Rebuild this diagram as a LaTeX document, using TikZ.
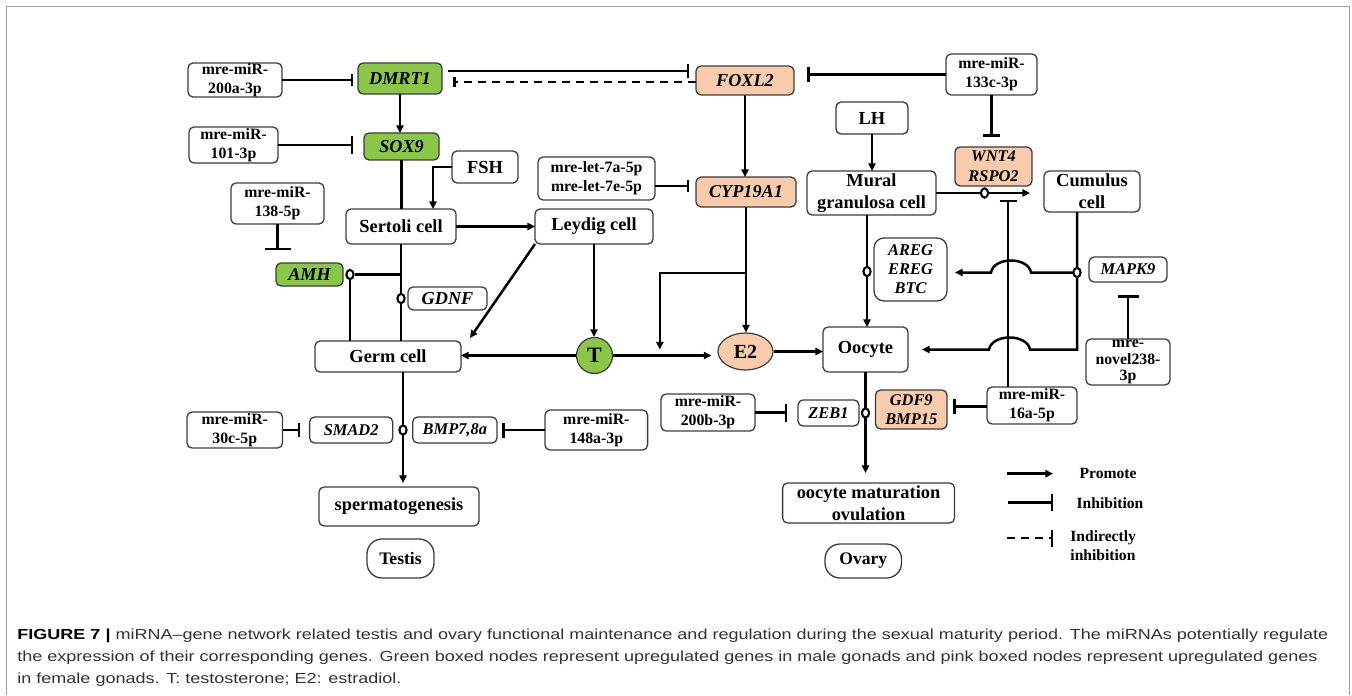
\documentclass[tikz,border=0pt]{standalone}
\usepackage{fontspec}
\setmainfont{Liberation Serif}
\newfontfamily\capsans{Liberation Sans}
\usetikzlibrary{arrows.meta,calc,shapes.geometric}
\definecolor{upgreen}{RGB}{138,198,74}
\definecolor{uppink}{RGB}{247,203,172}
\definecolor{boxc}{RGB}{60,60,60}
\definecolor{framec}{RGB}{160,160,160}
\definecolor{capc}{RGB}{50,50,50}
\newsavebox\capbox
\newcommand\capfont{\capsans\fontsize{7.3}{9}\selectfont\color{capc}}
\newcommand\placebox[7][]{%
  \pgfmathsetmacro\pbw{(#5-#3)*0.5}%
  \pgfmathsetmacro\pbh{(#6-#4)*0.5}%
  \pgfmathsetmacro\pcx{(#3+#5)/2}%
  \pgfmathsetmacro\pcy{(#4+#6)/2}%
  \node[#1,minimum width=\pbw pt,minimum height=\pbh pt] (#2) at (\pcx,\pcy) {#7};}
\tikzset{
  box/.style={draw=boxc, line width=0.65pt, rounded corners=2.5pt, inner sep=0pt, outer sep=0pt, align=center, fill=white},
  mir/.style={box, font=\fontsize{7.9}{9.6}\selectfont\bfseries},
  cell/.style={box, font=\fontsize{9.2}{10.8}\selectfont\bfseries},
  gene/.style={box, font=\fontsize{8.2}{9.6}\selectfont\bfseries\itshape},
  bgene/.style={box, font=\fontsize{9.1}{10.5}\selectfont\bfseries\itshape},
  gr/.style={fill=upgreen},
  pk/.style={fill=uppink},
  organ/.style={box, rounded corners=7.5pt, font=\fontsize{8.8}{10}\selectfont\bfseries},
  lnk/.style={draw=black, line width=1.25pt},
  arr/.style={lnk, -{Triangle[length=3.8pt,width=3.6pt]}},
  inh/.style={lnk, -{Bar[width=8pt]}},
  inhw/.style={lnk, -{Bar[width=#1]}},
  dsh/.style={dash pattern=on 4pt off 3pt},
  ring/.style={draw=black, line width=1.05pt, fill=white, ellipse, inner sep=0pt, minimum width=3.6pt, minimum height=4.6pt},
  leg/.style={inner sep=0pt, font=\fontsize{7.8}{9.2}\selectfont\bfseries},
}
\begin{document}
\sbox\capbox{\capfont{\color{black}\bfseries FIGURE 7 |} miRNA–gene network related testis and ovary functional maintenance and regulation during the sexual maturity period. The miRNAs potentially regulate}%
\pgfmathsetmacro\capscale{655.5/(\the\wd\capbox)}%
\begin{tikzpicture}[x=0.5pt,y=-0.5pt]
\useasboundingbox (0,0) rectangle (1352,695);
\draw[framec, line width=0.75pt] (6.5,695) -- (6.5,6.5) -- (1349.5,6.5) -- (1349.5,695);

% ---------- testis side nodes
\placebox[mir]{a200}{188}{63}{282}{97}{mre-miR-\\200a-3p}
\placebox[bgene,gr]{dmrt}{358}{63}{442}{94}{DMRT1}
\placebox[mir]{m101}{189}{127}{278}{163}{mre-miR-\\101-3p}
\placebox[bgene,gr]{sox9}{364}{133}{439}{160}{SOX9}
\placebox[cell]{fsh}{452}{151}{518}{183}{FSH}
\placebox[mir]{m138}{231}{183}{324}{224}{mre-miR-\\138-5p}
\placebox[cell]{sert}{346}{209}{456}{244}{Sertoli cell}
\placebox[bgene,gr]{amh}{276}{263}{343}{286}{AMH}
\placebox[bgene]{gdnf}{408}{287}{487}{310}{GDNF}
\placebox[cell]{germ}{315}{341}{461}{372}{Germ cell}
\placebox[mir]{m30c}{187}{412}{282.5}{448}{mre-miR-\\30c-5p}
\placebox[gene]{smad}{309.6}{417}{392.7}{443}{SMAD2}
\placebox[gene]{bmp}{412.7}{417}{497}{443}{BMP7,8a}
\placebox[mir]{m148}{545}{410}{647.6}{450}{mre-miR-\\148a-3p}
\placebox[cell]{sperm}{319}{487}{479}{526}{spermatogenesis}
\placebox[organ]{testis}{367}{539}{434}{578}{Testis}

% ---------- middle
\placebox[bgene,pk]{foxl2}{696}{66}{794}{95}{FOXL2}
\placebox[mir,font=\fontsize{7.9}{9.5}\selectfont\bfseries]{let7}{538}{157}{655}{200}{mre-let-7a-5p\\mre-let-7e-5p}
\placebox[bgene,pk]{cyp}{696}{177}{796}{207}{CYP19A1}
\placebox[cell]{leyd}{535}{209}{653}{244}{Leydig cell}
\node[circle, draw=boxc, line width=0.6pt, fill=upgreen, minimum size=18pt, inner sep=0pt, font=\fontsize{11}{12}\selectfont\bfseries] (T) at (594.5,355.5) {T};
\node[ellipse, draw=boxc, line width=0.6pt, fill=uppink, minimum width=27.5pt, minimum height=18.5pt, inner sep=0pt, font=\fontsize{10}{12}\selectfont\bfseries] (e2) at (745.5,351.5) {E2};

% ---------- ovary side nodes
\placebox[mir]{m133}{946}{54}{1037}{95}{mre-miR-\\133c-3p}
\placebox[cell]{lh}{836}{102}{908}{134}{LH}
\placebox[cell]{mural}{807}{171}{936}{215}{Mural\\granulosa cell}
\placebox[gene,pk,font=\fontsize{8.2}{10}\selectfont\bfseries\itshape]{wnt}{955}{147}{1032}{186}{WNT4\\RSPO2}
\placebox[cell]{cum}{1044}{171}{1140}{212}{Cumulus\\cell}
\placebox[gene,rounded corners=5pt,font=\fontsize{8.2}{9.5}\selectfont\bfseries\itshape]{areg}{874}{238}{947}{301}{AREG\\EREG\\BTC}
\placebox[gene]{mapk}{1089}{257}{1167}{282}{MAPK9}
\placebox[mir,font=\fontsize{7.9}{8.4}\selectfont\bfseries]{nov}{1086}{339}{1170}{385}{mre-\\novel238-\\3p}
\placebox[cell]{ooc}{823}{327}{908}{372}{Oocyte}
\placebox[mir]{m16a}{987}{387}{1077}{424}{mre-miR-\\16a-5p}
\placebox[gene,pk,font=\fontsize{8.2}{9.2}\selectfont\bfseries\itshape]{gdf}{875.5}{390}{947}{429}{GDF9\\BMP15}
\placebox[gene]{zeb}{798}{400}{859}{426}{ZEB1}
\placebox[mir]{m200b}{661}{394}{755}{431}{mre-miR-\\200b-3p}
\placebox[cell]{omat}{782.6}{483}{954.5}{523}{oocyte maturation\\ovulation}
\placebox[organ]{ovary}{825}{544}{901.5}{578}{Ovary}

% ---------- connectors, testis
\draw[inhw=6pt] (a200.east) -- ($(a200.east -| dmrt.west)+(-5,0)$);
\draw[arr] (dmrt.south) -- (dmrt.south |- sox9.north);
\draw[inhw=9pt] (m101.east) -- ($(m101.east -| sox9.west)+(-11,0)$);
\draw[inhw=7pt] ($(dmrt.east)+(6,-7.5)$) -- ($(foxl2.west)+(-7,-9.5)$);
\draw[inhw=5pt,dsh] ($(foxl2.west)+(0,1.5)$) -- ($(dmrt.east)+(11,3.5)$);
\draw[arr] (fsh.west) -| ($(sert.north)+(32,0)$);
\draw[lnk] (sox9.south) -- (sox9.south |- sert.north);
\draw[inhw=13pt] (m138.south) -- ($(m138.south)+(0,26)$);
\draw[arr] (sert.east) -- (leyd.west);
\draw[lnk] (sert.south) -- (sert.south |- germ.north);
\node[ring] (cg) at (sert.south |- gdnf.west) {};
\node[ring] (ca) at ($(amh.east)+(7,0)$) {};
\draw[lnk] (ca.east) -- (ca.east -| sert.south);
\draw[lnk] (ca.south) -- (ca.south |- germ.north);
\draw[arr] (leyd.south) -- (leyd.south |- T.north);
\draw[arr] (leyd.south west) -- ($(germ.north east)+(9,-3)$);
\draw[arr] (T.west) -- (T.west -| germ.east);
\draw[arr] (T.east) -- ($(T.east -| e2.west)+(-6,0)$);
\coordinate (gb) at ($(germ.south)+(15,0)$);
\draw[arr] (gb) -- ($(gb |- sperm.north)+(0,-4)$);
\node[ring] (cs) at (gb |- smad.east) {};
\draw[inhw=7pt] (m30c.east) -- ($(m30c.east -| smad.west)+(-9.6,0)$);
\draw[inhw=7.5pt] (m148.west) -- ($(m148.west -| bmp.east)+(5,0)$);

% ---------- connectors, middle
\draw[arr] (foxl2.south) -- (foxl2.south |- cyp.north);
\draw[inhw=6pt] ($(let7.east)+(0,7.5)$) -- ($(let7.east -| cyp.west)+(-7,7.5)$);
\draw[arr] (cyp.south) -- (cyp.south |- e2.north);
\coordinate (brk) at ($(cyp.south)+(0,66)$);
\coordinate (bre) at ($(T.east)!0.448!(T.east -| e2.west)+(0,-6)$);
\draw[arr] (brk) -| (bre);
\draw[arr] (e2.east) -- (e2.east -| ooc.west);

% ---------- connectors, ovary
\draw[inhw=7.5pt] (m133.west) -- ($(m133.west -| foxl2.east)+(13,0)$);
\draw[inhw=8.5pt] (m133.south) -- ($(m133.south |- wnt.north)+(0,-10)$);
\draw[arr] (lh.south) -- (lh.south |- mural.north);
\draw[arr] (mural.east) -- ($(mural.east -| cum.west)+(-14,0)$);
\node[ring] (cw) at ($(mural.east -| wnt.south)+(-9,0)$) {};
\coordinate (v16b) at ($(m16a.north)+(-24,0)$);
\coordinate (v16t) at ($(v16b |- mural.east)+(0,7)$);
\draw[inhw=8.5pt] (v16b) -- (v16t);
\coordinate (cumb) at ($(cum.south)+(-15,0)$);
\coordinate (br1) at ($(cumb |- areg.east)+(0,3)$);
\coordinate (br2) at (cumb |- ooc.east);
\draw[arr] (cumb) -- (br2) -- ($(br2 -| v16b)+(22,0)$) .. controls +(-3,-16) and +(3,-16) .. ($(br2 -| v16b)+(-19,0)$) -- ($(ooc.east)+(14,0)$);
\draw[arr] (br1) -- ($(br1 -| v16b)+(23,0)$) .. controls +(-3,-16) and +(3,-16) .. ($(br1 -| v16b)+(-17,0)$) -- ($(areg.east)+(8,3)$);
\node[ring] (cm) at (br1) {};
\coordinate (ms) at ($(mural.south)+(-4.5,0)$);
\draw[arr] (ms) -- (ms |- ooc.north);
\node[ring] (cr) at ($(ms |- areg.west)+(0,2)$) {};
\draw[inhw=10.5pt] (nov.north) -- ($(nov.north)+(0,-44)$);
\draw[arr] (ooc.south) -- ($(ooc.south |- omat.north)+(0,-10)$);
\node[ring] (co) at (ooc.south |- zeb.east) {};
\draw[inhw=9pt] (m200b.east) -- ($(m200b.east -| zeb.west)+(-11,0)$);
\draw[inhw=7.5pt] ($(m16a.west)+(0,1)$) -- ($(m16a.west -| gdf.east)+(6,1)$);

% ---------- legend
\coordinate (lp1) at (1007,473.7);
\coordinate (lp2) at (1053,473.7);
\draw[arr] (lp1) -- (lp2);
\node[leg] (lpt) at (1108,473) {Promote};
\coordinate (li1) at (1008,502.7);
\coordinate (li2) at (1053,502.7);
\draw[inhw=8.5pt] (li1) -- (li2);
\node[leg] (lit) at (1110,503) {Inhibition};
\coordinate (ld1) at (1007,538);
\coordinate (ld2) at (1053,538);
\draw[inhw=8.5pt,dsh] (ld1) -- (ld2);
\node[leg, anchor=west, align=left] (ldt) at (1070,545.5) {Indirectly\\inhibition};

% ---------- caption
\node[anchor=base west, inner sep=0pt] (cap1) at (17,639) {\scalebox{\capscale}[1]{\usebox\capbox}};
\node[anchor=base west, inner sep=0pt] (cap2) at (17,661) {\scalebox{\capscale}[1]{\capfont the expression of their corresponding genes. Green boxed nodes represent upregulated genes in male gonads and pink boxed nodes represent upregulated genes}};
\node[anchor=base west, inner sep=0pt] (cap3) at (17,683.5) {\scalebox{\capscale}[1]{\capfont in female gonads. T: testosterone; E2: estradiol.}};
\end{tikzpicture}
\end{document}
